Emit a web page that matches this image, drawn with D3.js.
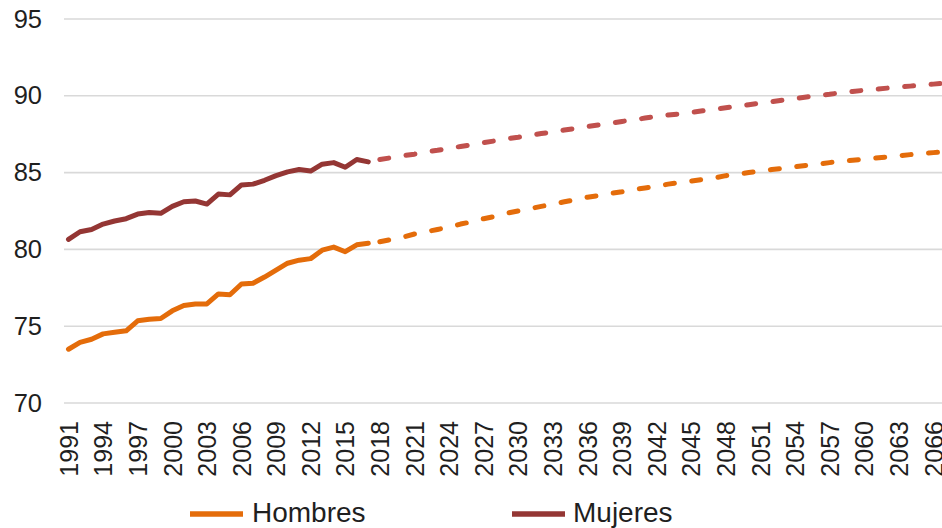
<!DOCTYPE html>
<html>
<head>
<meta charset="utf-8">
<script src="https://cdn.jsdelivr.net/npm/d3@7"></script>
<style>
  html, body { margin: 0; padding: 0; background: #fff; overflow: hidden; }
  svg { display: block; }
  text { font-family: "Liberation Sans", Arial, sans-serif; fill: #1f1f1f; }
</style>
</head>
<body>
<svg id="chart" width="942" height="528"></svg>
<script>
// ---- Data ----
const yearsHist = d3.range(1991, 2018);
const hombresHist = [73.5, 73.95, 74.15, 74.5, 74.6, 74.7, 75.35, 75.45, 75.5, 76.0,
  76.35, 76.45, 76.45, 77.1, 77.05, 77.75, 77.8, 78.2, 78.65, 79.1,
  79.3, 79.4, 79.95, 80.15, 79.85, 80.3, 80.4];
const mujeresHist = [80.65, 81.15, 81.3, 81.65, 81.85, 82.0, 82.3, 82.4, 82.35, 82.8,
  83.1, 83.15, 82.95, 83.6, 83.55, 84.2, 84.25, 84.5, 84.8, 85.05,
  85.2, 85.1, 85.55, 85.65, 85.35, 85.85, 85.7];

const yearsProj = d3.range(2018, 2068);
const hombresProj = [80.5, 80.65, 80.8, 81.0, 81.15, 81.3, 81.45, 81.65, 81.8, 82.0,
  82.15, 82.35, 82.5, 82.65, 82.8, 82.95, 83.1, 83.25, 83.4, 83.5,
  83.65, 83.75, 83.9, 84.0, 84.1, 84.25, 84.35, 84.45, 84.55, 84.65,
  84.8, 84.9, 85.0, 85.1, 85.2, 85.28, 85.38, 85.47, 85.56, 85.65,
  85.73, 85.8, 85.88, 85.95, 86.02, 86.1, 86.17, 86.24, 86.3, 86.37];
const mujeresProj = [85.85, 85.97, 86.1, 86.2, 86.35, 86.45, 86.58, 86.7, 86.82, 86.95,
  87.07, 87.2, 87.3, 87.42, 87.54, 87.65, 87.77, 87.88, 88.0, 88.1,
  88.2, 88.33, 88.43, 88.55, 88.65, 88.75, 88.82, 88.92, 89.02, 89.12,
  89.22, 89.32, 89.42, 89.52, 89.62, 89.72, 89.82, 89.92, 90.02, 90.1,
  90.2, 90.28, 90.36, 90.43, 90.5, 90.57, 90.63, 90.7, 90.76, 90.82];

const xTickYears = d3.range(1991, 2067, 3);
const yTicks = [70, 75, 80, 85, 90, 95];
const seriesNames = ["Hombres", "Mujeres"];

// ---- Styles ----
const colHombres = "#E46C0A";
const colMujeres = "#943634";
const colMujeresProj = "#C0504D";

const svg = d3.select("#chart");

const x = d3.scaleLinear().domain([1991, 2066]).range([68.5, 933.3]);
const y = d3.scaleLinear().domain([70, 95]).range([403, 19]);

// Gridlines
svg.append("g")
  .selectAll("line")
  .data(yTicks)
  .join("line")
  .attr("x1", 64).attr("x2", 942)
  .attr("y1", d => y(d)).attr("y2", d => y(d))
  .attr("stroke", "#d9d9d9").attr("stroke-width", 1.6);

// Y axis
const yAxis = svg.append("g")
  .attr("transform", "translate(42,0)")
  .call(d3.axisLeft(y).tickValues(yTicks).tickSize(0).tickPadding(0));
yAxis.select(".domain").remove();
yAxis.selectAll("text")
  .style("font-family", "'Liberation Sans', Arial, sans-serif")
  .style("font-size", "25.5px")
  .attr("fill", "#1f1f1f");

// X axis
const xAxis = svg.append("g")
  .attr("transform", "translate(0,421)")
  .call(d3.axisBottom(x).tickValues(xTickYears).tickFormat(d3.format("d")).tickSize(0).tickPadding(0));
xAxis.select(".domain").remove();
xAxis.selectAll("text")
  .style("font-family", "'Liberation Sans', Arial, sans-serif")
  .style("font-size", "25px")
  .attr("fill", "#1f1f1f")
  .attr("transform", "rotate(-90)")
  .attr("text-anchor", "end")
  .attr("x", 0)
  .attr("y", 0)
  .attr("dy", "0.35em");

// Lines
const line = d3.line().x(d => x(d[0])).y(d => y(d[1]));

function draw(years, vals, color, dashed) {
  svg.append("path")
    .datum(years.map((yr, i) => [yr, vals[i]]))
    .attr("d", line)
    .attr("fill", "none")
    .attr("stroke", color)
    .attr("stroke-width", 5)
    .attr("stroke-linejoin", "round")
    .attr("stroke-linecap", "round")
    .attr("stroke-dasharray", dashed ? "9,17.5" : null);
}

draw(yearsProj, hombresProj, colHombres, true);
draw(yearsProj, mujeresProj, colMujeresProj, true);
draw(yearsHist, hombresHist, colHombres, false);
draw(yearsHist, mujeresHist, colMujeres, false);

// Legend
const legend = [
  { name: seriesNames[0], color: colHombres, x1: 190, x2: 243, tx: 252 },
  { name: seriesNames[1], color: colMujeres, x1: 512, x2: 565, tx: 573 }
];
const lg = svg.append("g");
legend.forEach(l => {
  lg.append("line")
    .attr("x1", l.x1).attr("x2", l.x2)
    .attr("y1", 514).attr("y2", 514)
    .attr("stroke", l.color).attr("stroke-width", 5.5);
  lg.append("text")
    .attr("x", l.tx).attr("y", 522)
    .style("font-size", "28px")
    .text(l.name);
});
</script>
</body>
</html>
